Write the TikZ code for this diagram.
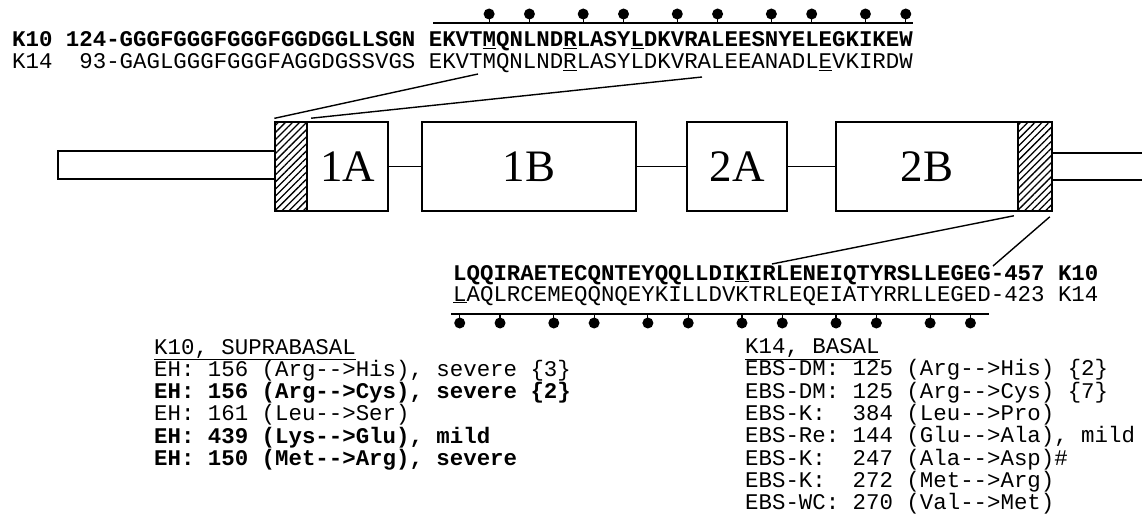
\documentclass[tikz,border=0pt]{standalone}
\usepackage{fontspec}
\setmainfont{Liberation Serif}
\setmonofont{Liberation Mono}
\usepackage{tikz}
\usetikzlibrary{patterns.meta}
\newcommand{\cw}{13.44}
\tikzset{
  seq/.style={anchor=base west, inner sep=0pt, font=\fontsize{22.4}{22.5}\selectfont\ttfamily},
  mutlist/.style={anchor=base west, inner sep=0pt, align=left, font=\fontsize{22.4}{22.3}\selectfont\ttfamily},
  segbox/.style={draw, line width=1.6pt, minimum height=89pt, inner sep=0pt, font=\fontsize{45}{45}\selectfont},
  hatchbox/.style={segbox, pattern={Lines[angle=45, distance=5pt, line width=1.3pt]}},
  link/.style={line width=1.4pt},
  helix/.style={line width=2.6pt},
}

\begin{document}
\begin{tikzpicture}[x=1pt, y=-1pt]
    \useasboundingbox (0,0) rectangle (1142,521);

    \node[seq] (k10top) at (12,47) {\bfseries K10 124-GGGFGGGFGGGFGGDGGLLSGN EKVT\underline{M}QNLND\underline{R}LASY\underline{L}DKVRALEESNYELEGKIKEW};
    \node[seq] (k14top) at (12,69) {K14~~93-GAGLGGGFGGGFAGGDGSSVGS EKVTMQNLND\underline{R}LASYLDKVRALEEANADL\underline{E}VKIRDW};
    \draw[helix] (433,23) -- (913,23);
    \foreach \i in {4,7,11,14,18,21,25,28,32,35} {
      \draw[line width=1.2pt] ({12+(31+\i+0.5)*\cw},23) -- ++(0,-9);
      \fill ({12+(31+\i+0.5)*\cw},14) circle (5.5pt);
    }

    \node[segbox, minimum width=217pt, minimum height=28pt] (tailL) at (166.5,165) {};
    \node[segbox, minimum width=100pt, minimum height=27pt] (tailR) at (1102,166.5) {};
    \node[hatchbox, minimum width=32pt] (hatchL) at (291,166.5) {};
    \node[segbox, minimum width=81pt] (a1) at (347.5,166.5) {1A};
    \node[segbox, minimum width=214pt] (b1) at (529,166.5) {1B};
    \node[segbox, minimum width=100pt] (a2) at (737,166.5) {2A};
    \node[segbox, minimum width=182pt] (b2) at (927,166.5) {2B};
    \node[hatchbox, minimum width=34pt] (hatchR) at (1035,166.5) {};
    \draw[link] (a1.east) -- (b1.west);
    \draw[link] (b1.east) -- (a2.west);
    \draw[link] (a2.east) -- (b2.west);

    \coordinate (topA) at (478,74);
    \coordinate (topB) at (702,77);
    \draw[link] ([yshift=3pt]hatchL.north west) -- (topA);
    \draw[link] ([xshift=5pt, yshift=3pt]a1.north west) -- (topB);
    \coordinate (botA) at (772,264);
    \coordinate (botB) at (993,266);
    \draw[link] ([xshift=-5pt, yshift=-4pt]b2.south east) -- (botA);
    \draw[link] ([xshift=-3pt, yshift=-5pt]hatchR.south east) -- (botB);

    \node[seq] (k10bot) at (453,280) {\bfseries LQQIRAETECQNTEYQQLLDI\underline{K}IRLENEIQTYRSLLEGEG-457 K10};
    \node[seq] (k14bot) at (453,301) {\underline{L}AQLRCEMEQQNQEYKILLDVKTRLEQEIATYRRLLEGED-423 K14};
    \draw[helix] (451,314) -- (989,314);
    \foreach \i in {0,3,7,10,14,17,21,24,28,31,35,38} {
      \draw[line width=1.2pt] ({453+(\i+0.5)*\cw},314) -- ++(0,9);
      \fill ({453+(\i+0.5)*\cw},323) circle (5.5pt);
    }

    \node[mutlist] (supra) at (154,465.5) {%
      \underline{K10,~SUPRABASAL}\\
      EH:~156~(Arg-->His),~severe~\{3\}\\
      \textbf{EH:~156~(Arg-->Cys),~severe~\{2\}}\\
      EH:~161~(Leu-->Ser)\\
      \textbf{EH:~439~(Lys-->Glu),~mild}\\
      \textbf{EH:~150~(Met-->Arg),~severe}};
    \node[mutlist] (basal) at (745,509.6) {%
      \underline{K14,~BASAL}\\
      EBS-DM:~125~(Arg-->His)~\{2\}\\
      EBS-DM:~125~(Arg-->Cys)~\{7\}\\
      EBS-K:~~384~(Leu-->Pro)\\
      EBS-Re:~144~(Glu-->Ala),~mild\\
      EBS-K:~~247~(Ala-->Asp)\#\\
      EBS-K:~~272~(Met-->Arg)\\
      EBS-WC:~270~(Val-->Met)};
\end{tikzpicture}
\end{document}
